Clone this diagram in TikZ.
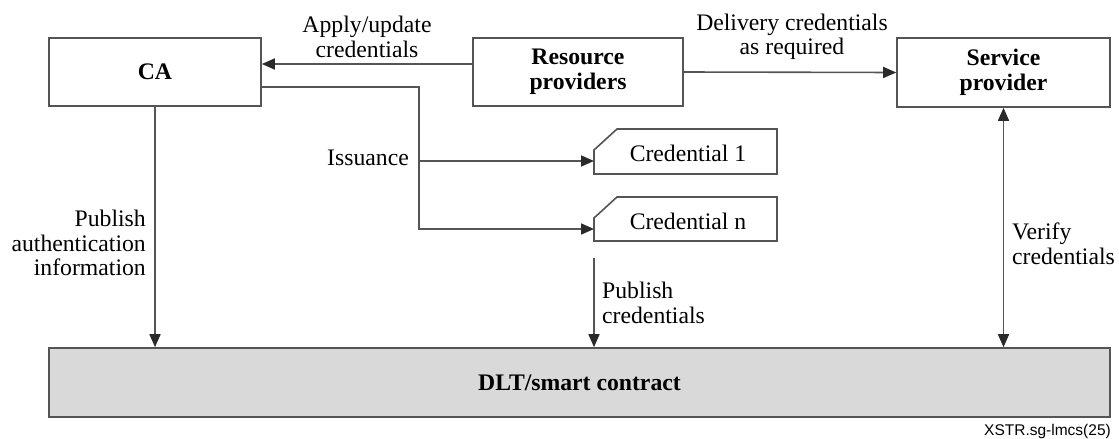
\documentclass[tikz,border=0pt]{standalone}
\usepackage{fontspec}
\setmainfont{Liberation Serif}
\setsansfont{Liberation Sans}
\usetikzlibrary{arrows.meta}
\definecolor{ln}{HTML}{555555}
\definecolor{ah}{HTML}{2A2A2A}
\definecolor{dltfill}{HTML}{D9D9D9}
\begin{document}
\begin{tikzpicture}[x=1pt,y=-1pt,
  every node/.style={font=\fontsize{23.7}{24.5}\selectfont, inner sep=0pt},
  box/.style={draw=ln, line width=1.6pt, fill=white, font=\fontsize{23.7}{25}\selectfont\bfseries, align=center},
  tipa/.tip={Triangle[length=13pt,width=11pt,color=ah]},
  conn/.style={draw=ln, line width=1.6pt, -tipa},
  credbox/.style={draw=ln, line width=1.6pt, fill=white}]
\useasboundingbox (0,0) rectangle (1119,439);

% boxes
\node[box, minimum width=212pt, minimum height=68pt] (ca) at (155,72) {CA};
\node[box, minimum width=210pt, minimum height=68pt] (rp) at (578,72) {Resource\\providers};
\node[box, minimum width=213pt, minimum height=69pt] (sp) at (1003.5,72.5) {Service\\provider};
\node[box, fill=dltfill, minimum width=1061pt, minimum height=69pt] (dlt) at (579.5,382.5) {DLT/smart contract};

% credential shapes
\draw[credbox] (617,129) -- (777,129) -- (777,174) -- (594,174) -- (594,150) -- cycle;
\node (c1) at (688,153) {Credential 1};
\coordinate (c1w) at (594,161);
\draw[credbox] (617,197) -- (777,197) -- (777,241) -- (594,241) -- (594,218) -- cycle;
\node (cn) at (688,221) {Credential n};
\coordinate (cnw) at (594,229);

% connectors
\draw[conn] ([yshift=8pt]rp.west) -- ([yshift=8pt]ca.east);
\draw[conn] (rp.east) -- (sp.west);
\coordinate (j1) at (419,161);
\coordinate (j2) at (419,229);
\draw[conn] ([yshift=-15pt]ca.east) -| (j2) -- (cnw);
\draw[conn] (j1) -- (c1w);
\draw[conn] (ca.south) -- (ca.south |- dlt.north);
\coordinate (pc) at (594,258);
\draw[conn] (pc) -- (pc |- dlt.north);
\draw[conn, tipa-tipa] (sp.south) -- (sp.south |- dlt.north);

% labels
\node[anchor=east] (iss) at (409,158) {Issuance};
\node[align=right, anchor=east] (pai) at (146,243) {Publish\\authentication\\information};
\node[align=left, anchor=west] (vc) at (1012,244) {Verify\\credentials};
\node[align=left, anchor=west] (pcl) at (602,303) {Publish\\credentials};
\node[align=center] (au) at (367,37) {Apply/update\\credentials};
\node[align=center] (dc) at (792,37) {Delivery credentials\\as required};
\node[font=\sffamily\fontsize{15.5}{17}\selectfont, anchor=east] (fig) at (1111,431) {XSTR.sg-lmcs(25)};
\end{tikzpicture}
\end{document}
